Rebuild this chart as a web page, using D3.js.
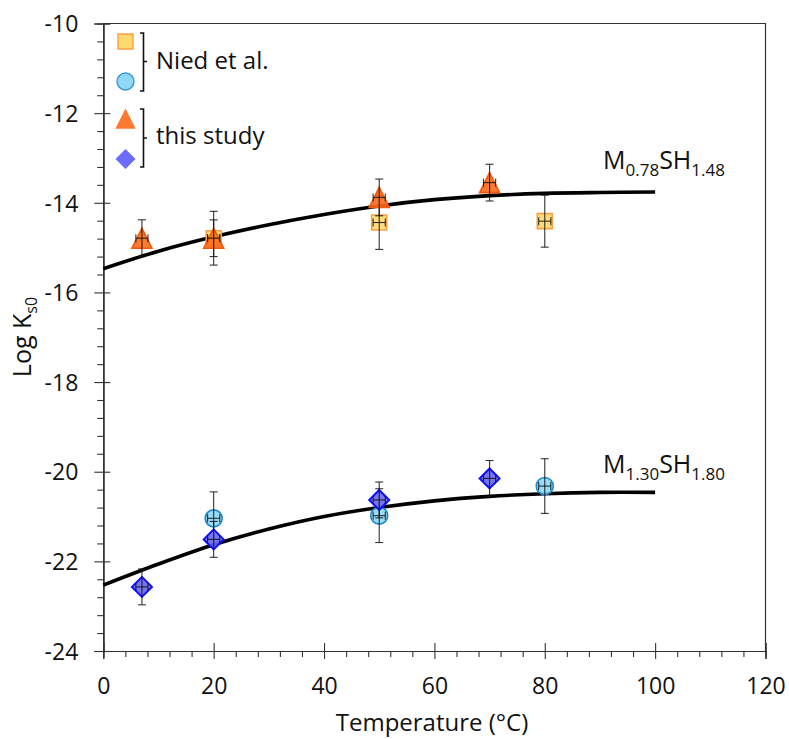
<!DOCTYPE html>
<html>
<head>
<meta charset="utf-8">
<script src="https://cdn.jsdelivr.net/npm/d3@7"></script>
<style>
  html, body { margin: 0; padding: 0; background: #fff; }
  svg { display: block; font-family: "Open Sans", "Noto Sans", sans-serif; }
</style>
</head>
<body>
<svg id="chart" width="789" height="739"></svg>
<script>
// ---- data ----
const xTickValues = [0, 20, 40, 60, 80, 100, 120];
const yTickValues = [-24, -22, -20, -18, -16, -14, -12, -10];

// Nied et al. – squares (upper phase)
const niedSquareT = [20, 50, 80];
const niedSquareLogK = [-14.79, -14.44, -14.41];
const niedSquareErr = [0.6, 0.6, 0.58];

// Nied et al. – circles (lower phase)
const niedCircleT = [20, 50, 80];
const niedCircleLogK = [-21.04, -20.98, -20.32];
const niedCircleErr = [0.59, 0.6, 0.61];

// this study – triangles (upper phase)
const studyTriangleT = [7, 20, 50, 70];
const studyTriangleLogK = [-14.79, -14.79, -13.88, -13.55];
const studyTriangleErr = [0.41, 0.41, 0.41, 0.41];

// this study – diamonds (lower phase)
const studyDiamondT = [7, 20, 50, 70];
const studyDiamondLogK = [-22.57, -21.51, -20.63, -20.15];
const studyDiamondErr = [0.4, 0.4, 0.4, 0.4];

const xErr = 1.1; // temperature uncertainty (°C)

// fitted curves
const curveT = [0, 10, 20, 30, 40, 50, 60, 70, 80, 90, 100];
const upperCurve = [-15.47, -15.08, -14.76, -14.49, -14.26, -14.07, -13.93, -13.84, -13.79, -13.77, -13.76];
const lowerCurve = [-22.53, -22.06, -21.63, -21.28, -21.0, -20.8, -20.65, -20.55, -20.49, -20.46, -20.46];

const legendLabels = ["Nied et al.", "this study"];

// ---- layout ----
const svg = d3.select("#chart");
const L = 103.3, R = 765.5, T = 23.5, B = 651;
const x = d3.scaleLinear().domain([0, 120]).range([L, R]);
const y = d3.scaleLinear().domain([-24, -10]).range([B, T]);
const axisColor = "#333";
const fmt = v => String(v); // plain hyphen-minus like the original

// frame (top & right)
svg.append("path")
  .attr("d", `M${L},${T}H${R}V${B}`)
  .attr("fill", "none").attr("stroke", axisColor).attr("stroke-width", 1.2);

// minor ticks
const xMinor = d3.range(0, 31).map(i => i * 4).filter(v => v % 20 !== 0);
const yMinor = d3.range(0, 36).filter(i => i % 5 !== 0).map(i => -24 + i * 0.4);

const xAxisG = svg.append("g").attr("transform", `translate(0,${B})`);
xAxisG.append("g").call(d3.axisBottom(x).tickValues(xMinor).tickSize(6).tickFormat(""));
xAxisG.append("g").call(d3.axisBottom(x).tickValues(xTickValues).tickSize(-8).tickFormat(""));
const xMain = xAxisG.append("g").call(d3.axisBottom(x).tickValues(xTickValues).tickSize(8).tickFormat(fmt));
xMain.selectAll("text").attr("y", 43).attr("dy", 0).attr("font-size", 23).attr("fill", "#111")
  .attr("font-family", "'Open Sans', sans-serif");

const yAxisG = svg.append("g").attr("transform", `translate(${L},0)`);
yAxisG.append("g").call(d3.axisLeft(y).tickValues(yMinor).tickSize(6).tickFormat(""));
yAxisG.append("g").call(d3.axisLeft(y).tickValues(yTickValues).tickSize(-7).tickFormat(""));
const yMain = yAxisG.append("g").call(d3.axisLeft(y).tickValues(yTickValues).tickSize(9).tickFormat(fmt));
yMain.selectAll("text").attr("x", -25).attr("dy", "0.36em").attr("font-size", 23).attr("fill", "#111")
  .attr("font-family", "'Open Sans', sans-serif");

svg.selectAll(".domain").attr("stroke", axisColor).attr("stroke-width", 1.2);
svg.selectAll(".tick line").attr("stroke", axisColor).attr("stroke-width", 1.1);

// axis titles
svg.append("text").attr("x", 432).attr("y", 731).attr("text-anchor", "middle")
  .attr("font-size", 24).attr("fill", "#111").text("Temperature (°C)");

const yl = svg.append("text").attr("transform", "translate(31,337) rotate(-90)")
  .attr("text-anchor", "middle").attr("font-size", 25).attr("fill", "#111");
yl.append("tspan").text("Log K");
yl.append("tspan").attr("font-size", 16).attr("dy", 6).text("s0");

// curves
const line = d3.line().x(d => x(d[0])).y(d => y(d[1])).curve(d3.curveCatmullRom);
[upperCurve, lowerCurve].forEach(c => {
  svg.append("path").datum(curveT.map((t, i) => [t, c[i]]))
    .attr("d", line).attr("fill", "none").attr("stroke", "#000").attr("stroke-width", 3.6);
});

// curve labels
function phaseLabel(xp, yp, a, b) {
  const t = svg.append("text").attr("x", xp).attr("y", yp).attr("font-size", 25).attr("fill", "#111");
  t.append("tspan").text("M");
  t.append("tspan").attr("font-size", 17).attr("dy", 7).text(a);
  t.append("tspan").attr("dy", -7).text("SH");
  t.append("tspan").attr("font-size", 17).attr("dy", 7).text(b);
}
phaseLabel(603, 169, "0.78", "1.48");
phaseLabel(603, 473, "1.30", "1.80");

function markerPath(kind, s) {
  if (kind === "square") return `M${-s/2},${-s/2}h${s}v${s}h${-s}Z`;
  if (kind === "circle") { const r = s / 2; return `M${-r},0a${r},${r} 0 1,0 ${2*r},0a${r},${r} 0 1,0 ${-2*r},0Z`; }
  if (kind === "triangle") return `M0,${-s/2}L${s/2},${s/2}L${-s/2},${s/2}Z`;
  if (kind === "diamond") return `M0,${-s/2}L${s/2},0L0,${s/2}L${-s/2},0Z`;
}

const series = [
  { t: niedSquareT, v: niedSquareLogK, e: niedSquareErr, kind: "square", size: 15, fill: "#FFD96E", stroke: "#F7A047", sw: 1.6, op: 0.9 },
  { t: niedCircleT, v: niedCircleLogK, e: niedCircleErr, kind: "circle", size: 17, fill: "#8ED8F6", stroke: "#1E88C8", sw: 1.6, op: 0.9 },
  { t: studyTriangleT, v: studyTriangleLogK, e: studyTriangleErr, kind: "triangle", size: 20, fill: "#FB6A1A", stroke: "#EF5A0E", sw: 1.6, op: 0.9 },
  { t: studyDiamondT, v: studyDiamondLogK, e: studyDiamondErr, kind: "diamond", size: 20, fill: "#6666EE", stroke: "#1010FF", sw: 2, op: 0.9 }
];

series.forEach(s => {
  const g = svg.append("g");
  s.t.forEach((t, i) => {
    const cx = x(t), cy = y(s.v[i]);
    g.append("path").attr("d", markerPath(s.kind, s.size))
      .attr("transform", `translate(${cx},${cy})`)
      .attr("fill", s.fill).attr("fill-opacity", s.op)
      .attr("stroke", s.stroke).attr("stroke-width", s.sw);
    const y1 = y(s.v[i] + s.e[i]), y2 = y(s.v[i] - s.e[i]);
    const eb = g.append("g").attr("stroke", "#111").attr("stroke-width", 1.1).attr("stroke-opacity", 0.85);
    eb.append("line").attr("x1", cx).attr("x2", cx).attr("y1", y1).attr("y2", y2);
    eb.append("line").attr("x1", cx - 4).attr("x2", cx + 4).attr("y1", y1).attr("y2", y1);
    eb.append("line").attr("x1", cx - 4).attr("x2", cx + 4).attr("y1", y2).attr("y2", y2);
    const xa = x(t - xErr), xb = x(t + xErr);
    eb.append("line").attr("x1", xa).attr("x2", xb).attr("y1", cy).attr("y2", cy);
    eb.append("line").attr("x1", xa).attr("x2", xa).attr("y1", cy - 4).attr("y2", cy + 4);
    eb.append("line").attr("x1", xb).attr("x2", xb).attr("y1", cy - 4).attr("y2", cy + 4);
  });
});

// legend
const legendItems = [
  { kind: "square", size: 15, fill: "#FFD96E", stroke: "#F7A047", cy: 41.5 },
  { kind: "circle", size: 17, fill: "#8ED8F6", stroke: "#3A95D3", cy: 81.5 },
  { kind: "triangle", size: 18, fill: "#FF7A30", stroke: "#FF7A30", cy: 119 },
  { kind: "diamond", size: 18, fill: "#6B6BFF", stroke: "#6B6BFF", cy: 159 }
];
legendItems.forEach(d => {
  svg.append("path").attr("d", markerPath(d.kind, d.size))
    .attr("transform", `translate(125.5,${d.cy})`)
    .attr("fill", d.fill).attr("stroke", d.stroke).attr("stroke-width", 1.4);
});
function bracket(y0, y1, ym) {
  svg.append("path")
    .attr("d", `M140,${y0}H143.5V${y1}H140M143.5,${ym}H147`)
    .attr("fill", "none").attr("stroke", "#111").attr("stroke-width", 1.6);
}
bracket(33, 91, 61.5);
bracket(109, 167, 138);
svg.append("text").attr("x", 156).attr("y", 68.5).attr("font-size", 24).attr("fill", "#111").text(legendLabels[0]);
svg.append("text").attr("x", 156).attr("y", 144).attr("font-size", 24).attr("fill", "#111").text(legendLabels[1]);
</script>
</body>
</html>
